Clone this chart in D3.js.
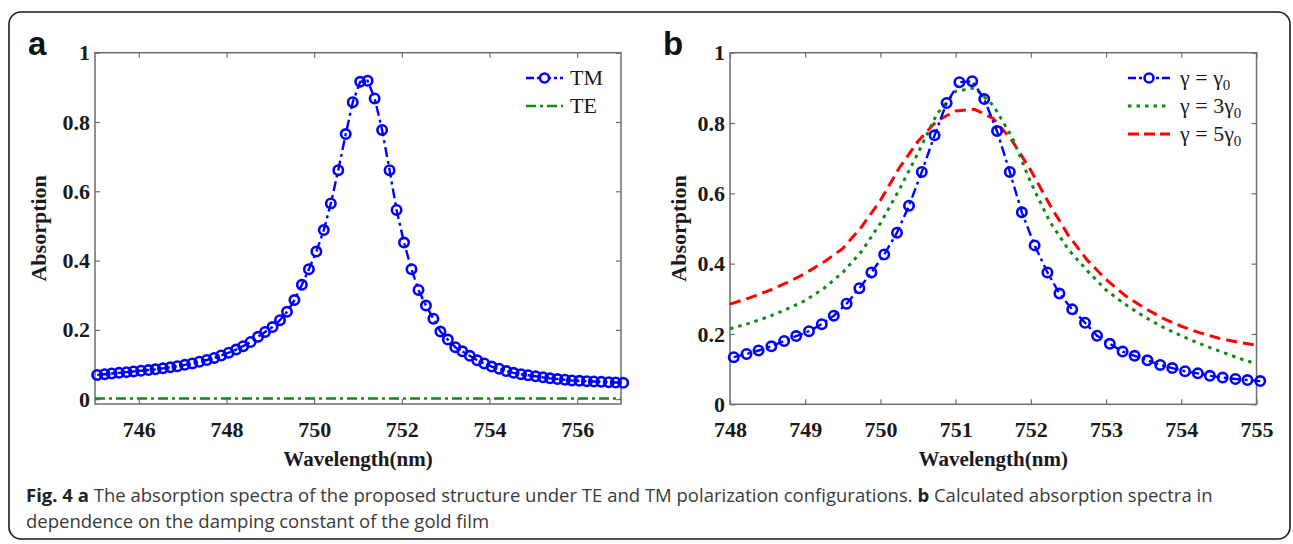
<!DOCTYPE html>
<html>
<head>
<meta charset="utf-8">
<script src="https://cdn.jsdelivr.net/npm/d3@7"></script>
<style>
    body { margin: 0; background: #fff; }
    svg { display: block; }
</style>
</head>
<body>
<svg id="fig" width="1293" height="544"></svg>
<script>
// ---- data ----
// TM spectrum (panel a), also the gamma = gamma0 curve of panel b
const tmWavelength = [
    745.05, 745.22, 745.38, 745.55, 745.72, 745.88,
    746.05, 746.22, 746.38, 746.55, 746.72, 746.88,
    747.05, 747.22, 747.38, 747.55, 747.72, 747.88,
    748.05, 748.22, 748.38, 748.55, 748.72, 748.88,
    749.05, 749.22, 749.38, 749.55, 749.72, 749.88,
    750.05, 750.22, 750.38, 750.55, 750.72, 750.88,
    751.05, 751.22, 751.38, 751.55, 751.72, 751.88,
    752.05, 752.22, 752.38, 752.55, 752.72, 752.88,
    753.05, 753.22, 753.38, 753.55, 753.72, 753.88,
    754.05, 754.22, 754.38, 754.55, 754.72, 754.88,
    755.05, 755.22, 755.38, 755.55, 755.72, 755.88,
    756.05, 756.22, 756.38, 756.55, 756.72, 756.88,
    757.05
]
const tmAbsorption = [
    0.070, 0.072, 0.074, 0.076, 0.078, 0.080,
    0.082, 0.084, 0.086, 0.089, 0.092, 0.095,
    0.099, 0.103, 0.108, 0.113, 0.119, 0.126,
    0.134, 0.143, 0.153, 0.165, 0.180, 0.194,
    0.208, 0.228, 0.252, 0.286, 0.330, 0.375,
    0.426, 0.488, 0.565, 0.661, 0.765, 0.857,
    0.916, 0.919, 0.868, 0.777, 0.661, 0.546,
    0.452, 0.375, 0.315, 0.270, 0.232, 0.195,
    0.172, 0.150, 0.138, 0.125, 0.112, 0.103,
    0.094, 0.088, 0.081, 0.076, 0.072, 0.069,
    0.066, 0.063, 0.060, 0.058, 0.056, 0.054,
    0.053, 0.052, 0.051, 0.050, 0.049, 0.048,
    0.047
]
// TE spectrum (flat, panel a)
const teWavelength = [745, 748, 751, 754, 757]
const teAbsorption = [0.002, 0.002, 0.002, 0.002, 0.002]

// panel b, broader damping
const dampWavelength = [
    748.00, 748.25, 748.50, 748.75, 749.00, 749.25, 749.50, 749.75,
    750.00, 750.25, 750.50, 750.75, 751.00, 751.25, 751.50, 751.75,
    752.00, 752.25, 752.50, 752.75, 753.00, 753.25, 753.50, 753.75,
    754.00, 754.25, 754.50, 754.75, 755.00
]
const gamma3Absorption = [
    0.215, 0.230, 0.248, 0.270, 0.295, 0.330, 0.375, 0.435,
    0.515, 0.610, 0.715, 0.825, 0.890, 0.900, 0.850, 0.760,
    0.630, 0.520, 0.440, 0.380, 0.325, 0.285, 0.250, 0.220,
    0.195, 0.172, 0.152, 0.132, 0.115
]
const gamma5Absorption = [
    0.285, 0.302, 0.322, 0.345, 0.372, 0.405, 0.443, 0.505,
    0.580, 0.672, 0.748, 0.806, 0.834, 0.839, 0.813, 0.750,
    0.665, 0.568, 0.480, 0.410, 0.355, 0.310, 0.275, 0.245,
    0.222, 0.203, 0.188, 0.177, 0.168
]

const absTicks = [0, 0.2, 0.4, 0.6, 0.8, 1]
const aTicks = [746, 748, 750, 752, 754, 756]
const bTicks = [748, 749, 750, 751, 752, 753, 754, 755]

// ---- drawing ----
const svg = d3.select('#fig')
const axisColor = '#6e6e6e'
const serif = "'Liberation Serif', 'Times New Roman', serif"
const blue = '#0000ff', green = '#118a11', red = '#ff0000'

// outer frame of the figure
svg.append('rect')
    .attr('x', 9).attr('y', 12)
    .attr('width', 1281).attr('height', 527)
    .attr('rx', 12)
    .attr('fill', 'none')
    .attr('stroke', '#1a1a1a')
    .attr('stroke-width', 1.6)

const zip = (xs, ys) => xs.map((d, i) => [d, ys[i]])

const make_panel = ({ left, right, top, bottom, xDomain, yDomain, xTicks, letter, letterX, yTitleX }) => {
    const x = d3.scaleLinear().domain(xDomain).range([left, right])
    const y = d3.scaleLinear().domain(yDomain).range([bottom, top])
    const g = svg.append('g')

    const styleAxis = sel => {
        sel.select('.domain').remove()
        sel.selectAll('.tick line').attr('stroke', axisColor).attr('stroke-width', 1.2)
        sel.selectAll('.tick text')
            .attr('fill', '#1a1a1a')
            .style('font-family', serif)
            .style('font-weight', 'bold')
            .style('font-size', '22px')
    }

    g.append('g')
        .attr('transform', `translate(0,${bottom})`)
        .call(d3.axisBottom(x).tickValues(xTicks).tickSize(-5).tickPadding(17).tickFormat(d3.format('d')))
        .call(styleAxis)
    g.append('g')
        .attr('transform', `translate(0,${top})`)
        .call(d3.axisTop(x).tickValues(xTicks).tickSize(-5).tickFormat(''))
        .call(styleAxis)
    g.append('g')
        .attr('transform', `translate(${left},0)`)
        .call(d3.axisLeft(y).tickValues(absTicks).tickSize(-5).tickPadding(5).tickFormat(d => String(d)))
        .call(styleAxis)
    g.append('g')
        .attr('transform', `translate(${right},0)`)
        .call(d3.axisRight(y).tickValues(absTicks).tickSize(-5).tickFormat(''))
        .call(styleAxis)

    // box
    g.append('rect')
        .attr('x', left).attr('y', top)
        .attr('width', right - left).attr('height', bottom - top)
        .attr('fill', 'none')
        .attr('stroke', axisColor)
        .attr('stroke-width', 1.5)

    // titles
    g.append('text')
        .attr('x', (left + right) / 2).attr('y', 466)
        .attr('text-anchor', 'middle')
        .style('font-family', serif).style('font-weight', 'bold').style('font-size', '21px')
        .attr('fill', '#1a1a1a')
        .text('Wavelength(nm)')
    g.append('text')
        .attr('transform', `translate(${yTitleX},${(top + bottom) / 2}) rotate(-90)`)
        .attr('text-anchor', 'middle')
        .style('font-family', serif).style('font-weight', 'bold').style('font-size', '22px')
        .attr('fill', '#1a1a1a')
        .text('Absorption')
    g.append('text')
        .attr('x', letterX).attr('y', 55)
        .style('font-family', "'Liberation Sans', Arial, sans-serif")
        .style('font-weight', 'bold').style('font-size', '33px')
        .attr('fill', '#111')
        .text(letter)

    return { g, x, y }
}

const drawLine = (p, data, color, dash, width) => {
    p.g.append('path')
        .datum(data)
        .attr('fill', 'none')
        .attr('stroke', color)
        .attr('stroke-width', width)
        .attr('stroke-dasharray', dash)
        .attr('d', d3.line().x(d => p.x(d[0])).y(d => p.y(d[1])))
}

const drawMarkers = (p, data) => {
    p.g.append('g')
        .selectAll('circle')
        .data(data)
        .join('circle')
        .attr('cx', d => p.x(d[0]))
        .attr('cy', d => p.y(d[1]))
        .attr('r', 4.7)
        .attr('fill', 'none')
        .attr('stroke', blue)
        .attr('stroke-width', 2.6)
}

const drawLegend = (p, items, x0, x1, y0, textX) => {
    items.forEach((it, i) => {
        const yy = y0 + i * 28
        p.g.append('line')
            .attr('x1', x0).attr('x2', x1).attr('y1', yy).attr('y2', yy)
            .attr('stroke', it.color).attr('stroke-width', it.width)
            .attr('stroke-dasharray', it.dash)
        if (it.marker) {
            p.g.append('circle')
                .attr('cx', (x0 + x1) / 2).attr('cy', yy).attr('r', 4.5)
                .attr('fill', '#fff').attr('stroke', blue).attr('stroke-width', 2.6)
        }
        const t = p.g.append('text')
            .attr('x', textX).attr('y', yy + 7)
            .style('font-family', serif).style('font-size', '22px')
            .attr('fill', '#1a1a1a')
        it.label.forEach(part => {
            const ts = t.append('tspan').text(part.t)
            if (part.sub) ts.attr('dy', 5).style('font-size', '15px')
        })
    })
}

const tmData = zip(tmWavelength, tmAbsorption)

// ---- panel a ----
const pa = make_panel({
    left: 95, right: 621, top: 52.7, bottom: 404,
    xDomain: [745, 757], yDomain: [-0.014, 1],
    xTicks: aTicks, letter: 'a', letterX: 28, yTitleX: 46
})
drawLine(pa, zip(teWavelength, teAbsorption), green, '10,4,3,4', 2.6)
drawLine(pa, tmData, blue, '10,4,3,4', 2.4)
drawMarkers(pa, tmData)
drawLegend(pa, [
    { color: blue, dash: '8,3,3,3', width: 2.6, marker: true, label: [{ t: 'TM' }] },
    { color: green, dash: '10,4,3,4', width: 2.6, label: [{ t: 'TE' }] }
], 526, 563, 78, 570)

// ---- panel b ----
const pb = make_panel({
    left: 730, right: 1256.5, top: 52.7, bottom: 404.3,
    xDomain: [748, 755], yDomain: [0, 1],
    xTicks: bTicks, letter: 'b', letterX: 663, yTitleX: 686
})
const tmB = tmData.filter(d => d[0] >= 748 && d[0] <= 755.06)
drawLine(pb, zip(dampWavelength, gamma5Absorption), red, '11,6', 3)
drawLine(pb, zip(dampWavelength, gamma3Absorption), green, '3.5,5', 3)
drawLine(pb, tmB, blue, '10,4,3,4', 2.4)
drawMarkers(pb, tmB)
drawLegend(pb, [
    { color: blue, dash: '8,3,3,3', width: 2.6, marker: true, label: [{ t: 'γ = γ' }, { t: '0', sub: true }] },
    { color: green, dash: '3.5,5', width: 3, label: [{ t: 'γ = 3γ' }, { t: '0', sub: true }] },
    { color: red, dash: '11,5', width: 3, label: [{ t: 'γ = 5γ' }, { t: '0', sub: true }] }
], 1128, 1170, 78, 1180)

// ---- caption ----
const captionFont = "'Open Sans', 'Noto Sans', sans-serif"
const cap1 = svg.append('text').attr('x', 0).attr('y', 0)
    .style('font-family', captionFont).style('font-size', '18px').attr('fill', '#3a3a3a')
cap1.append('tspan').style('font-weight', 'bold').attr('fill', '#222').text('Fig. 4 a')
cap1.append('tspan').text(' The absorption spectra of the proposed structure under TE and TM polarization configurations. ')
cap1.append('tspan').style('font-weight', 'bold').attr('fill', '#222').text('b')
cap1.append('tspan').text(' Calculated absorption spectra in')
const cap2 = svg.append('text').attr('x', 0).attr('y', 0)
    .style('font-family', captionFont).style('font-size', '18px').attr('fill', '#3a3a3a')
    .text('dependence on the damping constant of the gold film')

// the original caption face is narrower, squeeze to the same line width
const sx = (1213 - 26) / cap1.node().getComputedTextLength()
cap1.attr('transform', `translate(26,502) scale(${sx},1)`)
cap2.attr('transform', `translate(26,528) scale(${sx},1)`)
</script>
</body>
</html>
